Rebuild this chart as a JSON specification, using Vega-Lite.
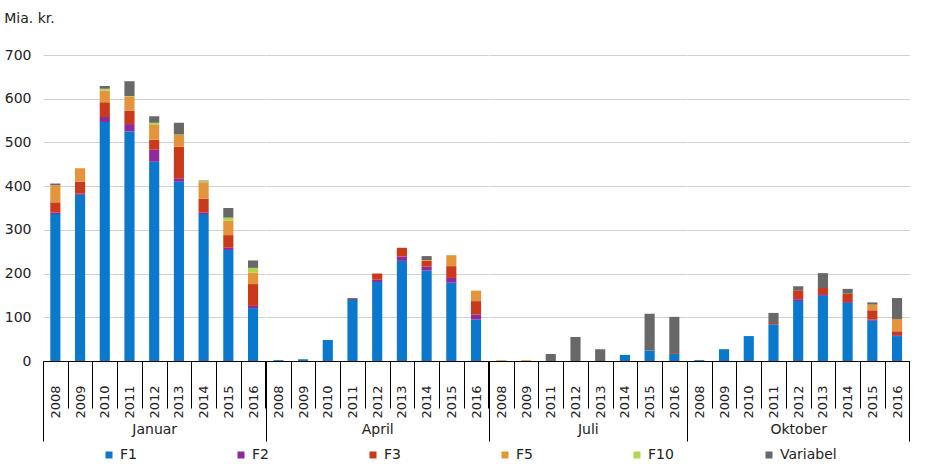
{
  "$schema": "https://vega.github.io/schema/vega-lite/v6.json",
  "background": "white",
  "padding": {"left": 4, "top": 12, "right": 10, "bottom": 5},
  "config": {
    "view": {"stroke": null},
    "font": "DejaVu Sans",
    "axis": {"labelColor": "#222", "labelFont": "DejaVu Sans", "titleFont": "DejaVu Sans", "titleColor": "#222"},
    "axisX": {"labelAngle": -90, "labelAlign": "right", "labelBaseline": "middle", "tickSize": 47, "labelPadding": -23, "tickColor": "black", "domainColor": "black", "labelFontSize": 13, "titleFontSize": 14, "titleFontWeight": "normal", "titlePadding": 4, "grid": false},
    "axisY": {"values": [0, 100, 200, 300, 400, 500, 600, 700], "domain": false, "ticks": false, "labelPadding": 12, "labelFontSize": 14, "gridColor": "#d0d0d0", "title": null}
  },
  "title": {"text": "Mia. kr.", "anchor": "start", "frame": "bounds", "fontSize": 14, "fontWeight": "normal", "color": "#222", "offset": 22},
  "data": {
    "values": [
      {"m": "Januar", "y": 2008, "s": "F1", "v": 336}, {"m": "Januar", "y": 2008, "s": "F2", "v": 4}, {"m": "Januar", "y": 2008, "s": "F3", "v": 23}, {"m": "Januar", "y": 2008, "s": "F5", "v": 39}, {"m": "Januar", "y": 2008, "s": "Variabel", "v": 4},
      {"m": "Januar", "y": 2009, "s": "F1", "v": 380}, {"m": "Januar", "y": 2009, "s": "F2", "v": 3}, {"m": "Januar", "y": 2009, "s": "F3", "v": 27}, {"m": "Januar", "y": 2009, "s": "F5", "v": 31},
      {"m": "Januar", "y": 2010, "s": "F1", "v": 547}, {"m": "Januar", "y": 2010, "s": "F2", "v": 11}, {"m": "Januar", "y": 2010, "s": "F3", "v": 34}, {"m": "Januar", "y": 2010, "s": "F5", "v": 27}, {"m": "Januar", "y": 2010, "s": "F10", "v": 4}, {"m": "Januar", "y": 2010, "s": "Variabel", "v": 6},
      {"m": "Januar", "y": 2011, "s": "F1", "v": 525}, {"m": "Januar", "y": 2011, "s": "F2", "v": 17}, {"m": "Januar", "y": 2011, "s": "F3", "v": 31}, {"m": "Januar", "y": 2011, "s": "F5", "v": 31}, {"m": "Januar", "y": 2011, "s": "F10", "v": 2}, {"m": "Januar", "y": 2011, "s": "Variabel", "v": 34},
      {"m": "Januar", "y": 2012, "s": "F1", "v": 456}, {"m": "Januar", "y": 2012, "s": "F2", "v": 27}, {"m": "Januar", "y": 2012, "s": "F3", "v": 23}, {"m": "Januar", "y": 2012, "s": "F5", "v": 34}, {"m": "Januar", "y": 2012, "s": "F10", "v": 5}, {"m": "Januar", "y": 2012, "s": "Variabel", "v": 15},
      {"m": "Januar", "y": 2013, "s": "F1", "v": 410}, {"m": "Januar", "y": 2013, "s": "F2", "v": 8}, {"m": "Januar", "y": 2013, "s": "F3", "v": 72}, {"m": "Januar", "y": 2013, "s": "F5", "v": 27}, {"m": "Januar", "y": 2013, "s": "F10", "v": 1}, {"m": "Januar", "y": 2013, "s": "Variabel", "v": 27},
      {"m": "Januar", "y": 2014, "s": "F1", "v": 336}, {"m": "Januar", "y": 2014, "s": "F2", "v": 4}, {"m": "Januar", "y": 2014, "s": "F3", "v": 31}, {"m": "Januar", "y": 2014, "s": "F5", "v": 38}, {"m": "Januar", "y": 2014, "s": "F10", "v": 3}, {"m": "Januar", "y": 2014, "s": "Variabel", "v": 1},
      {"m": "Januar", "y": 2015, "s": "F1", "v": 254}, {"m": "Januar", "y": 2015, "s": "F2", "v": 5}, {"m": "Januar", "y": 2015, "s": "F3", "v": 29}, {"m": "Januar", "y": 2015, "s": "F5", "v": 33}, {"m": "Januar", "y": 2015, "s": "F10", "v": 7}, {"m": "Januar", "y": 2015, "s": "Variabel", "v": 22},
      {"m": "Januar", "y": 2016, "s": "F1", "v": 121}, {"m": "Januar", "y": 2016, "s": "F2", "v": 5}, {"m": "Januar", "y": 2016, "s": "F3", "v": 50}, {"m": "Januar", "y": 2016, "s": "F5", "v": 26}, {"m": "Januar", "y": 2016, "s": "F10", "v": 11}, {"m": "Januar", "y": 2016, "s": "Variabel", "v": 17},
      {"m": "April", "y": 2008, "s": "F1", "v": 2},
      {"m": "April", "y": 2009, "s": "F1", "v": 4},
      {"m": "April", "y": 2010, "s": "F1", "v": 48},
      {"m": "April", "y": 2011, "s": "F1", "v": 142}, {"m": "April", "y": 2011, "s": "F3", "v": 2},
      {"m": "April", "y": 2012, "s": "F1", "v": 181}, {"m": "April", "y": 2012, "s": "F2", "v": 5}, {"m": "April", "y": 2012, "s": "F3", "v": 14},
      {"m": "April", "y": 2013, "s": "F1", "v": 229}, {"m": "April", "y": 2013, "s": "F2", "v": 10}, {"m": "April", "y": 2013, "s": "F3", "v": 20},
      {"m": "April", "y": 2014, "s": "F1", "v": 207}, {"m": "April", "y": 2014, "s": "F2", "v": 9}, {"m": "April", "y": 2014, "s": "F3", "v": 13}, {"m": "April", "y": 2014, "s": "F5", "v": 2}, {"m": "April", "y": 2014, "s": "Variabel", "v": 9},
      {"m": "April", "y": 2015, "s": "F1", "v": 179}, {"m": "April", "y": 2015, "s": "F2", "v": 11}, {"m": "April", "y": 2015, "s": "F3", "v": 27}, {"m": "April", "y": 2015, "s": "F5", "v": 25},
      {"m": "April", "y": 2016, "s": "F1", "v": 95}, {"m": "April", "y": 2016, "s": "F2", "v": 11}, {"m": "April", "y": 2016, "s": "F3", "v": 31}, {"m": "April", "y": 2016, "s": "F5", "v": 24},
      {"m": "Juli", "y": 2008, "s": "F5", "v": 2},
      {"m": "Juli", "y": 2009, "s": "F5", "v": 2},
      {"m": "Juli", "y": 2011, "s": "Variabel", "v": 16},
      {"m": "Juli", "y": 2012, "s": "Variabel", "v": 55},
      {"m": "Juli", "y": 2013, "s": "Variabel", "v": 27},
      {"m": "Juli", "y": 2014, "s": "F1", "v": 14},
      {"m": "Juli", "y": 2015, "s": "F1", "v": 24}, {"m": "Juli", "y": 2015, "s": "Variabel", "v": 84},
      {"m": "Juli", "y": 2016, "s": "F1", "v": 16}, {"m": "Juli", "y": 2016, "s": "F3", "v": 2}, {"m": "Juli", "y": 2016, "s": "Variabel", "v": 83},
      {"m": "Oktober", "y": 2008, "s": "F1", "v": 2},
      {"m": "Oktober", "y": 2009, "s": "F1", "v": 27},
      {"m": "Oktober", "y": 2010, "s": "F1", "v": 57},
      {"m": "Oktober", "y": 2011, "s": "F1", "v": 84}, {"m": "Oktober", "y": 2011, "s": "F3", "v": 3}, {"m": "Oktober", "y": 2011, "s": "Variabel", "v": 23},
      {"m": "Oktober", "y": 2012, "s": "F1", "v": 137}, {"m": "Oktober", "y": 2012, "s": "F2", "v": 4}, {"m": "Oktober", "y": 2012, "s": "F3", "v": 21}, {"m": "Oktober", "y": 2012, "s": "Variabel", "v": 9},
      {"m": "Oktober", "y": 2013, "s": "F1", "v": 149}, {"m": "Oktober", "y": 2013, "s": "F2", "v": 4}, {"m": "Oktober", "y": 2013, "s": "F3", "v": 14}, {"m": "Oktober", "y": 2013, "s": "Variabel", "v": 34},
      {"m": "Oktober", "y": 2014, "s": "F1", "v": 133}, {"m": "Oktober", "y": 2014, "s": "F2", "v": 2}, {"m": "Oktober", "y": 2014, "s": "F3", "v": 19}, {"m": "Oktober", "y": 2014, "s": "Variabel", "v": 11},
      {"m": "Oktober", "y": 2015, "s": "F1", "v": 92}, {"m": "Oktober", "y": 2015, "s": "F2", "v": 3}, {"m": "Oktober", "y": 2015, "s": "F3", "v": 21}, {"m": "Oktober", "y": 2015, "s": "F5", "v": 13}, {"m": "Oktober", "y": 2015, "s": "Variabel", "v": 5},
      {"m": "Oktober", "y": 2016, "s": "F1", "v": 57}, {"m": "Oktober", "y": 2016, "s": "F2", "v": 2}, {"m": "Oktober", "y": 2016, "s": "F3", "v": 9}, {"m": "Oktober", "y": 2016, "s": "F5", "v": 28}, {"m": "Oktober", "y": 2016, "s": "Variabel", "v": 48}
    ]
  },
  "transform": [
    {"calculate": "indexof(['F1','F2','F3','F5','F10','Variabel'], datum.s)", "as": "k"}
  ],
  "spacing": 0,
  "bounds": "flush",
  "resolve": {"scale": {"x": "independent", "y": "independent"}, "axis": {"x": "independent", "y": "independent"}},
  "hconcat": [
    {
      "transform": [{"filter": "datum.m == 'Januar'"}],
      "width": {"step": 24.71},
      "height": 306,
      "resolve": {"axis": {"x": "independent"}},
      "layer": [
        {
          "mark": {"type": "bar", "width": {"band": 0.41}},
          "encoding": {
            "x": {"field": "y", "type": "ordinal", "scale": {"paddingInner": 0, "paddingOuter": 0}, "axis": {"title": "Januar", "orient": "bottom", "tickBand": "extent"}},
            "y": {"field": "v", "type": "quantitative", "stack": "zero", "scale": {"domain": [0, 700], "nice": false}},
            "color": {
              "field": "s", "type": "nominal",
              "scale": {"domain": ["F1", "F2", "F3", "F5", "F10", "Variabel"], "range": ["#0a78cc", "#8e2a9c", "#cb391d", "#e4953b", "#b3d44e", "#686868"]},
              "legend": {"title": null, "orient": "none", "legendX": 59, "legendY": 393, "direction": "horizontal", "columns": 6, "gridAlign": "all", "columnPadding": 57, "symbolType": "square", "symbolSize": 49, "symbolStrokeWidth": 0, "labelFontSize": 14, "labelColor": "#222"}
            },
            "order": {"field": "k", "type": "quantitative"}
          }
        },
        {
          "mark": {"type": "rule", "opacity": 0},
          "encoding": {"x": {"field": "y", "type": "ordinal", "axis": {"title": null, "orient": "bottom", "values": [2008], "bandPosition": 0, "tickExtra": false, "tickSize": 80, "labels": false, "domain": false}}}
        }
      ]
    },
    {
      "transform": [{"filter": "datum.m == 'April'"}],
      "width": {"step": 24.71},
      "height": 306,
      "resolve": {"axis": {"x": "independent"}},
      "layer": [
        {
          "mark": {"type": "bar", "width": {"band": 0.41}},
          "encoding": {
            "x": {"field": "y", "type": "ordinal", "scale": {"paddingInner": 0, "paddingOuter": 0}, "axis": {"title": "April", "orient": "bottom", "tickBand": "extent"}},
            "y": {"field": "v", "type": "quantitative", "stack": "zero", "scale": {"domain": [0, 700], "nice": false}, "axis": {"labels": false, "labelPadding": 0, "minExtent": 0}},
            "color": {"field": "s", "type": "nominal"},
            "order": {"field": "k", "type": "quantitative"}
          }
        },
        {
          "mark": {"type": "rule", "opacity": 0},
          "encoding": {"x": {"field": "y", "type": "ordinal", "axis": {"title": null, "orient": "bottom", "values": [2008], "bandPosition": 0, "tickExtra": false, "tickSize": 80, "labels": false, "domain": false}}}
        }
      ]
    },
    {
      "transform": [{"filter": "datum.m == 'Juli'"}],
      "width": {"step": 24.71},
      "height": 306,
      "resolve": {"axis": {"x": "independent"}},
      "layer": [
        {
          "mark": {"type": "bar", "width": {"band": 0.41}},
          "encoding": {
            "x": {"field": "y", "type": "ordinal", "scale": {"paddingInner": 0, "paddingOuter": 0}, "axis": {"title": "Juli", "orient": "bottom", "tickBand": "extent"}},
            "y": {"field": "v", "type": "quantitative", "stack": "zero", "scale": {"domain": [0, 700], "nice": false}, "axis": {"labels": false, "labelPadding": 0, "minExtent": 0}},
            "color": {"field": "s", "type": "nominal"},
            "order": {"field": "k", "type": "quantitative"}
          }
        },
        {
          "mark": {"type": "rule", "opacity": 0},
          "encoding": {"x": {"field": "y", "type": "ordinal", "axis": {"title": null, "orient": "bottom", "values": [2008], "bandPosition": 0, "tickExtra": false, "tickSize": 80, "labels": false, "domain": false}}}
        }
      ]
    },
    {
      "transform": [{"filter": "datum.m == 'Oktober'"}],
      "width": {"step": 24.71},
      "height": 306,
      "resolve": {"axis": {"x": "independent"}},
      "layer": [
        {
          "mark": {"type": "bar", "width": {"band": 0.41}},
          "encoding": {
            "x": {"field": "y", "type": "ordinal", "scale": {"paddingInner": 0, "paddingOuter": 0}, "axis": {"title": "Oktober", "orient": "bottom", "tickBand": "extent"}},
            "y": {"field": "v", "type": "quantitative", "stack": "zero", "scale": {"domain": [0, 700], "nice": false}, "axis": {"labels": false, "labelPadding": 0, "minExtent": 0}},
            "color": {"field": "s", "type": "nominal"},
            "order": {"field": "k", "type": "quantitative"}
          }
        },
        {
          "mark": {"type": "rule", "opacity": 0},
          "encoding": {"x": {"field": "y", "type": "ordinal", "axis": {"title": null, "orient": "bottom", "values": [2008], "bandPosition": 0, "tickExtra": false, "tickSize": 80, "labels": false, "domain": false}}}
        },
        {
          "mark": {"type": "rule", "opacity": 0},
          "encoding": {"x": {"field": "y", "type": "ordinal", "axis": {"title": null, "orient": "bottom", "values": [2016], "bandPosition": 1, "tickExtra": false, "tickSize": 80, "labels": false, "domain": false}}}
        }
      ]
    }
  ]
}
